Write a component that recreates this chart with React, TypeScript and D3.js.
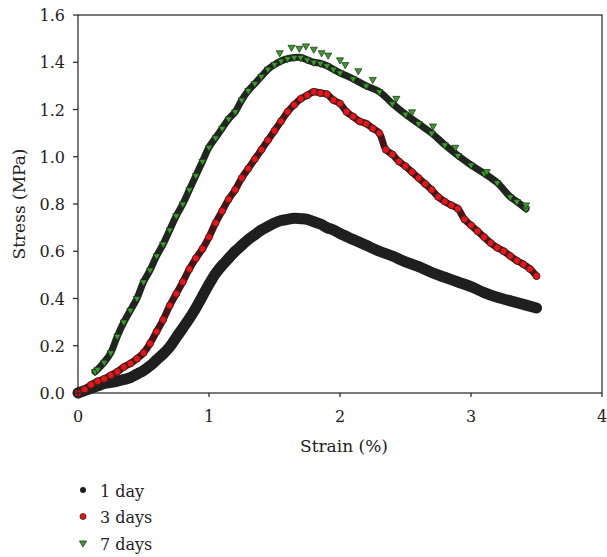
import React from "react";
import * as d3 from "d3";

const xTicks = [0, 1, 2, 3, 4];
const yTicks = [0, 0.2, 0.4, 0.6, 0.8, 1.0, 1.2, 1.4, 1.6];

const day1Strain = [0,0.05,0.1,0.15,0.2,0.25,0.3,0.35,0.4,0.45,0.5,0.55,0.6,0.65,0.7,0.75,0.8,0.85,0.9,0.95,1.0,1.05,1.1,1.15,1.2,1.25,1.3,1.35,1.4,1.45,1.5,1.55,1.6,1.65,1.7,1.75,1.8,1.85,1.9,1.95,2.0,2.1,2.2,2.3,2.4,2.5,2.6,2.7,2.8,2.9,3.0,3.1,3.2,3.3,3.4,3.5];
const day1Stress = [0,0.01,0.02,0.03,0.04,0.045,0.05,0.057,0.065,0.08,0.095,0.115,0.14,0.165,0.195,0.235,0.275,0.315,0.36,0.41,0.46,0.505,0.54,0.57,0.6,0.625,0.65,0.67,0.69,0.705,0.72,0.73,0.735,0.74,0.738,0.735,0.725,0.715,0.7,0.69,0.675,0.65,0.625,0.6,0.58,0.555,0.535,0.51,0.49,0.47,0.45,0.425,0.405,0.39,0.375,0.36];

const day3Strain = [0,0.05,0.1,0.15,0.2,0.25,0.3,0.35,0.4,0.45,0.5,0.55,0.6,0.65,0.7,0.75,0.8,0.85,0.9,0.95,1.0,1.05,1.1,1.15,1.2,1.25,1.3,1.35,1.4,1.45,1.5,1.55,1.6,1.65,1.7,1.75,1.8,1.85,1.9,1.95,2.0,2.05,2.1,2.15,2.2,2.25,2.3,2.35,2.4,2.45,2.5,2.55,2.6,2.65,2.7,2.75,2.8,2.85,2.9,2.95,3.0,3.05,3.1,3.15,3.2,3.25,3.3,3.35,3.4,3.45,3.5];
const day3Stress = [0,0.015,0.035,0.05,0.06,0.075,0.09,0.11,0.125,0.145,0.17,0.21,0.26,0.31,0.37,0.42,0.47,0.525,0.57,0.61,0.66,0.72,0.77,0.82,0.86,0.91,0.95,0.99,1.03,1.07,1.11,1.15,1.19,1.22,1.245,1.26,1.275,1.27,1.265,1.24,1.225,1.19,1.17,1.15,1.14,1.12,1.1,1.03,1.01,0.98,0.96,0.935,0.91,0.885,0.86,0.83,0.81,0.795,0.78,0.735,0.71,0.685,0.66,0.635,0.615,0.6,0.58,0.56,0.545,0.525,0.495];

const day7Strain = [0.13,0.15,0.2,0.25,0.3,0.35,0.4,0.45,0.5,0.55,0.6,0.65,0.7,0.75,0.8,0.85,0.9,0.95,1.0,1.05,1.1,1.15,1.2,1.25,1.3,1.35,1.4,1.45,1.5,1.55,1.6,1.65,1.7,1.75,1.8,1.85,1.9,1.95,2.0,2.1,2.2,2.3,2.4,2.5,2.6,2.7,2.8,2.9,3.0,3.1,3.2,3.3,3.35,3.42];
const day7Stress = [0.09,0.1,0.13,0.17,0.24,0.3,0.35,0.4,0.47,0.52,0.58,0.63,0.69,0.75,0.8,0.86,0.92,0.98,1.04,1.08,1.12,1.16,1.19,1.24,1.28,1.31,1.34,1.37,1.39,1.405,1.415,1.42,1.42,1.41,1.4,1.395,1.385,1.37,1.355,1.33,1.3,1.275,1.225,1.18,1.14,1.1,1.05,1.005,0.965,0.93,0.89,0.83,0.81,0.78];

const day7OutStrain = [1.54,1.63,1.69,1.74,1.8,1.86,1.91,2.0,2.04,2.14,2.25,2.43,2.55,2.71,2.88,3.12,3.42];
const day7OutStress = [1.44,1.463,1.459,1.469,1.455,1.44,1.43,1.41,1.39,1.364,1.327,1.247,1.19,1.13,1.04,0.937,0.796];

const legendLabels = ["1 day", "3 days", "7 days"];

const W = 607, H = 557;
const x = d3.scaleLinear().domain([0, 4]).range([78, 602]);
const y = d3.scaleLinear().domain([0, 1.6]).range([393, 15]);
const FONT = "DejaVu Serif, Liberation Serif, serif";
const ts: React.CSSProperties = { fontFamily: FONT, fontSize: "16px" };
const ts2: React.CSSProperties = { fontFamily: FONT, fontSize: "17px" };

function zip(a: number[], b: number[]): [number, number][] {
  return a.map((v, i) => [v, b[i]]);
}

const line = d3.line<[number, number]>().x(d => x(d[0])).y(d => y(d[1])).curve(d3.curveCatmullRom);
const tri = d3.symbol().type(d3.symbolTriangle).size(22);

export default function App() {
  const d1 = zip(day1Strain, day1Stress);
  const d3s = zip(day3Strain, day3Stress);
  const d7 = zip(day7Strain, day7Stress);
  const d7o = zip(day7OutStrain, day7OutStress);
  return (
    <svg width={W} height={H} style={{ position: "absolute", left: 0, top: 0 }}>
      <rect x={0} y={0} width={W} height={H} fill="#fff" />
      <path d={line(d1) || ""} fill="none" stroke="#1f1f1f" strokeWidth={11} strokeLinecap="round" />
      {d1.map((d, i) => (
        <circle key={"a" + i} cx={x(d[0])} cy={y(d[1])} r={5} fill="#1f1f1f" />
      ))}
      <path d={line(d3s) || ""} fill="none" stroke="#4a1414" strokeWidth={7} strokeLinecap="round" />
      {d3s.map((d, i) => (
        <circle key={"b" + i} cx={x(d[0])} cy={y(d[1])} r={3.5} fill="#e2161b" stroke="#3a2020" strokeWidth={0.8} />
      ))}
      <path d={line(d7) || ""} fill="none" stroke="#1e261e" strokeWidth={7} strokeLinecap="round" />
      {d7.map((d, i) => (
        <path key={"c" + i} d={tri() || ""} transform={`translate(${x(d[0])},${y(d[1])}) rotate(180)`} fill="#3d9a2c" stroke="#1e261e" strokeWidth={0.7} />
      ))}
      {d7o.map((d, i) => (
        <path key={"o" + i} d={tri() || ""} transform={`translate(${x(d[0])},${y(d[1])}) rotate(180)`} fill="#3d9a2c" stroke="#1e261e" strokeWidth={0.7} />
      ))}
      <rect x={x(0)} y={y(1.6)} width={x(4) - x(0)} height={y(0) - y(1.6)} fill="none" stroke="#222" strokeWidth={1.2} />
      {xTicks.map(t => (
        <g key={"xt" + t}>
          <line x1={x(t)} x2={x(t)} y1={y(0)} y2={y(0) + 4} stroke="#222" strokeWidth={1.2} />
          <text x={x(t)} y={y(0) + 28.5} textAnchor="middle" style={ts} fill="#222">{t}</text>
        </g>
      ))}
      {yTicks.map(t => (
        <g key={"yt" + t}>
          <line x1={x(0) - 5} x2={x(0)} y1={y(t)} y2={y(t)} stroke="#222" strokeWidth={1.2} />
          <text x={x(0) - 13} y={y(t) + 6} textAnchor="end" style={ts} fill="#222">{t.toFixed(1)}</text>
        </g>
      ))}
      <text x={344} y={452} textAnchor="middle" style={ts2} fill="#222">Strain (%)</text>
      <text transform={`translate(25,${y(0.8)}) rotate(-90)`} textAnchor="middle" style={ts2} fill="#222">Stress (MPa)</text>
      {legendLabels.map((lab, i) => {
        const ly = 490 + i * 26.5;
        return (
          <g key={"lg" + i}>
            {i === 0 && <circle cx={83} cy={ly} r={3} fill="#1f1f1f" />}
            {i === 1 && <circle cx={83} cy={ly} r={3} fill="#e2161b" stroke="#3a2020" strokeWidth={0.8} />}
            {i === 2 && <path d={tri() || ""} transform={`translate(83,${ly}) rotate(180)`} fill="#3d9a2c" stroke="#1e261e" strokeWidth={0.7} />}
            <text x={100} y={ly + 6.5} style={ts} fill="#222">{lab}</text>
          </g>
        );
      })}
    </svg>
  );
}
